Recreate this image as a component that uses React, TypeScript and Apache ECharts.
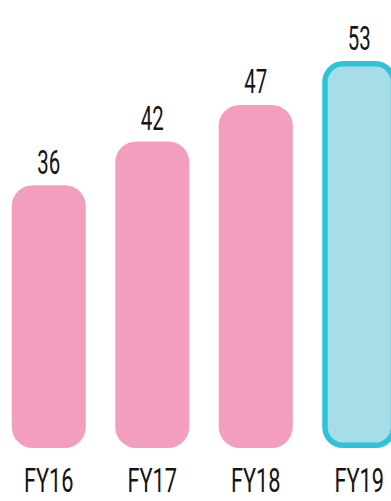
import React, { useEffect, useRef } from "react";
import * as echarts from "echarts";

const categories = ["FY16", "FY17", "FY18", "FY19"];
const values = [36, 42, 47, 53];
const highlightIndex = 3;

const PINK = "#f39dbf";
const CYAN_FILL = "#a6dde8";
const CYAN_BORDER = "#2ec3d7";
const TEXT = "#141414";

export default function App() {
  const ref = useRef<HTMLDivElement>(null);
  useEffect(() => {
    document.body.style.overflow = "hidden";
    if (!ref.current) return;
    const chart = echarts.init(ref.current, null, { renderer: "svg" });
    const option: any = {
      animation: false,
      backgroundColor: "#ffffff",
      grid: { left: 0, right: 0, top: 10, bottom: 53, containLabel: false },
      xAxis: {
        type: "category",
        data: categories,
        show: false,
      },
      yAxis: { type: "value", min: 0, max: 60, show: false },
      series: [
        {
          type: "custom",
          clip: false,
          encode: { x: 0, y: 1 },
          data: values.map((v, i) => [i, v]),
          renderItem: (params: any, api: any) => {
            const i = api.value(0);
            const v = api.value(1);
            const top = api.coord([i, v]);
            const base = api.coord([i, 0]);
            const bw = api.size([1, 0])[0] * 0.715;
            const x = top[0] - bw / 2;
            const h = base[1] - top[1];
            const hl = i === highlightIndex;
            const bwid = 5.5;
            const rect = hl
              ? {
                  type: "rect",
                  shape: {
                    x: x + bwid / 2,
                    y: top[1] + bwid / 2,
                    width: bw - bwid,
                    height: h - bwid,
                    r: 18,
                  },
                  style: { fill: CYAN_FILL, stroke: CYAN_BORDER, lineWidth: bwid },
                }
              : {
                  type: "rect",
                  shape: { x, y: top[1], width: bw, height: h, r: 21 },
                  style: { fill: PINK },
                };
            return {
              type: "group",
              children: [
                rect,
                {
                  type: "text",
                  x: top[0],
                  y: top[1] - 23,
                  scaleX: 0.6,
                  style: {
                    text: String(v),
                    x: 0,
                    y: 0,
                    fill: TEXT,
                    fontFamily: "Roboto",
                    fontSize: 34,
                    align: "center",
                    verticalAlign: "middle",
                  },
                },
                {
                  type: "text",
                  x: top[0],
                  y: base[1] + 33,
                  scaleX: 0.64,
                  style: {
                    text: categories[i],
                    x: 0,
                    y: 0,
                    fill: TEXT,
                    fontFamily: "Roboto",
                    fontSize: 34,
                    align: "center",
                    verticalAlign: "middle",
                  },
                },
              ],
            };
          },
        },
      ],
    };
    chart.setOption(option);
    return () => chart.dispose();
  }, []);
  return (
    <div
      ref={ref}
      style={{ position: "fixed", left: -2.75, top: 0, width: 414, height: 501 }}
    />
  );
}
